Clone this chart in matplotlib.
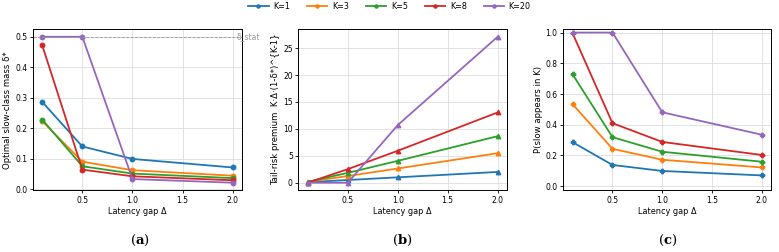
import matplotlib
matplotlib.use('Agg')
import matplotlib.pyplot as plt

# data
gaps = [0.1, 0.5, 1.0, 2.0]
ks = [1, 3, 5, 8, 20]

delta_star = {
    1: [0.286, 0.140, 0.099, 0.071],
    3: [0.223, 0.090, 0.062, 0.044],
    5: [0.228, 0.075, 0.051, 0.036],
    8: [0.472, 0.064, 0.042, 0.029],
    20: [0.500, 0.500, 0.033, 0.021],
}
tail_premium = {
    1: [0.10, 0.50, 1.00, 2.00],
    3: [0.18, 1.24, 2.64, 5.48],
    5: [0.18, 1.83, 4.06, 8.64],
    8: [0.01, 2.52, 5.93, 13.05],
    20: [0.00, 0.00, 10.7, 27.1],
}
p_slow = {
    1: [0.286, 0.138, 0.099, 0.070],
    3: [0.533, 0.243, 0.172, 0.122],
    5: [0.727, 0.319, 0.224, 0.159],
    8: [0.994, 0.410, 0.288, 0.203],
    20: [1.000, 1.000, 0.481, 0.335],
}
delta_stat = 0.5

plt.rcParams['font.size'] = 5.5
colors = ['#1f77b4', '#ff7f0e', '#2ca02c', '#d62728', '#9467bd']

fig = plt.figure(figsize=(7.79, 2.52), dpi=100)
bottom, top = 0.246, 0.883
ax_a = fig.add_axes([0.042, bottom, 0.269, top - bottom])
ax_b = fig.add_axes([0.383, bottom, 0.268, top - bottom])
ax_c = fig.add_axes([0.723, bottom, 0.267, top - bottom])

panels = [
    (ax_a, delta_star, 'o', 'Optimal slow-class mass δ*'),
    (ax_b, tail_premium, '^', 'Tail-risk premium  K·Δ·(1-δ*)^{K-1}'),
    (ax_c, p_slow, 'P', 'P(slow appears in K)'),
]
for ax, data, mk, ylab in panels:
    for k, c in zip(ks, colors):
        ax.plot(gaps, data[k], marker=mk, markersize=3.2, linewidth=1.3,
                color=c, label=f'K={k}')
    ax.set_xlabel('Latency gap Δ', fontsize=5.9, labelpad=2)
    ax.set_ylabel(ylab, fontsize=6.1, labelpad=2)
    ax.set_xticks([0.5, 1.0, 1.5, 2.0])
    ax.grid(True, color='#dddddd', linewidth=0.6)
    ax.tick_params(length=2.5, width=0.6, pad=1.5, labelsize=5.5)
    for s in ax.spines.values():
        s.set_linewidth(0.7)

ax_c.set_ylim(-0.025, 1.02)
ax_a.axhline(delta_stat, color='#999999', linestyle='--', linewidth=0.6)
ax_a.text(2.04, delta_stat, 'δ_stat', color='#999999', fontsize=5.5,
          va='center', ha='left', clip_on=False)

handles, labels = ax_a.get_legend_handles_labels()
fig.legend(handles, labels, loc='upper center', ncol=5, frameon=False,
           bbox_to_anchor=(0.5, 1.02), fontsize=5.8, handlelength=2.5,
           handletextpad=0.6, columnspacing=2.1, markerscale=0.7)

plt.rcParams['mathtext.fontset'] = 'dejavuserif'
for x, lab in [(0.18, 'a'), (0.517, 'b'), (0.857, 'c')]:
    fig.text(x, 0.045, '(' + r'$\mathbf{' + lab + '}$' + ')', ha='center',
             va='center', fontsize=9.5, family='DejaVu Serif')

fig.savefig('out.png', dpi=100)
